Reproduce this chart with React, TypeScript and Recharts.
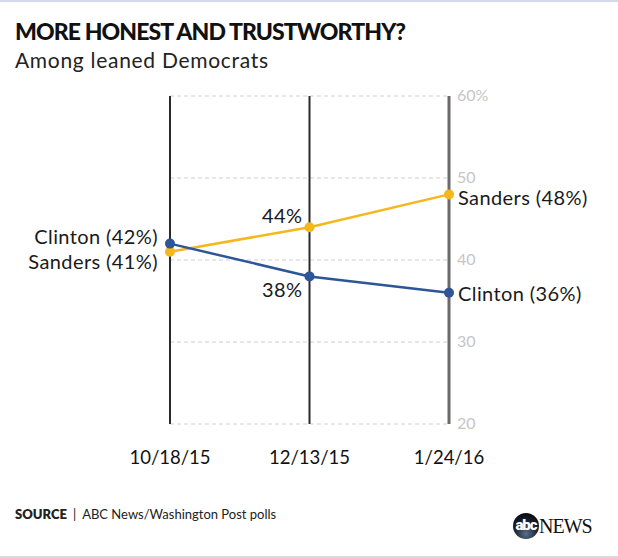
import React from "react"
import {
  LineChart,
  Line,
  XAxis,
  YAxis,
  CartesianGrid,
  ReferenceLine,
  LabelList,
} from "recharts"

const dates = ["10/18/15", "12/13/15", "1/24/16"]
const clinton = [42, 38, 36]
const sanders = [41, 44, 48]
const yTicks = [20, 30, 40, 50, 60]

const BLUE = "#2d5597"
const YELLOW = "#f6b71c"
const FONT = "Lato, 'Open Sans', sans-serif"

const data = dates.map((d, i) => ({ date: d, Clinton: clinton[i], Sanders: sanders[i] }))

// label placement per point: [dx, dy, anchor]
const clintonPos: [number, number, string][] = [
  [-12, -8, "end"],
  [-7, 13, "end"],
  [9, 0, "start"],
]
const sandersPos: [number, number, string][] = [
  [-12, 9, "end"],
  [-7, -12, "end"],
  [9, 3, "start"],
]

const makeLabel = (name: string, pos: [number, number, string][]) => (props: any) => {
  const { x, y, value, index } = props
  const [dx, dy, anchor] = pos[index]
  const text = index === 1 ? `${value}%` : `${name} (${value}%)`
  return (
    <text
      x={x + dx}
      y={y + dy}
      textAnchor={anchor as any}
      dominantBaseline="central"
      fill="#1a1a1a"
      fontSize={20}
      letterSpacing={0.4}
      fontFamily={FONT}
    >
      {text}
    </text>
  )
}

const YTick = (props: any) => {
  const { x, y, payload } = props
  return (
    <text x={x} y={y - 2} dominantBaseline="central" fill="#c6c6c6" fontSize={16} fontFamily={FONT}>
      {payload.value === 60 ? "60%" : payload.value}
    </text>
  )
}

export default function App() {
  return (
    <div
      style={{
        position: "fixed",
        top: 0,
        left: 0,
        width: 618,
        height: 558,
        background: "#fff",
        fontFamily: FONT,
        overflow: "hidden",
      }}
    >
      <div style={{ position: "absolute", top: 0, left: 0, width: 618, height: 2, background: "#d3dbe8" }} />
      <div style={{ position: "absolute", bottom: 0, left: 0, width: 618, height: 2, background: "#d3dbe8" }} />
      <div
        style={{
          position: "absolute",
          left: 15,
          top: 17,
          fontSize: 23,
          fontWeight: 900,
          color: "#111",
          letterSpacing: -0.9,
          whiteSpace: "nowrap",
        }}
      >
        MORE HONEST AND TRUSTWORTHY?
      </div>
      <div
        style={{
          position: "absolute",
          left: 15,
          top: 47,
          fontSize: 21,
          color: "#222",
          letterSpacing: 0.7,
          whiteSpace: "nowrap",
        }}
      >
        Among leaned Democrats
      </div>

      <div style={{ position: "absolute", left: 0, top: 0 }}>
        <LineChart width={618} height={558} data={data} margin={{ top: 96, right: 109, bottom: 94, left: 170 }}>
          <CartesianGrid vertical={false} stroke="#d0d0d0" strokeDasharray="4 3" />
          <XAxis
            dataKey="date"
            axisLine={false}
            tickLine={false}
            tickMargin={21}
            tick={{ fill: "#111", fontSize: 18.5, fontFamily: FONT }}
            height={40}
          />
          <YAxis
            orientation="right"
            domain={[20, 60]}
            ticks={yTicks}
            axisLine={false}
            tickLine={false}
            width={60}
            tick={<YTick />}
            tickMargin={2}
          />
          <ReferenceLine x={dates[0]} stroke="#2a2a2a" strokeWidth={2} />
          <ReferenceLine x={dates[1]} stroke="#2a2a2a" strokeWidth={2} />
          <ReferenceLine x={dates[2]} stroke="#6a6a6a" strokeWidth={3} />
          <Line
            dataKey="Sanders"
            stroke={YELLOW}
            strokeWidth={2.5}
            dot={{ r: 5, fill: YELLOW, stroke: "none" }}
            isAnimationActive={false}
          >
            <LabelList dataKey="Sanders" content={makeLabel("Sanders", sandersPos)} />
          </Line>
          <Line
            dataKey="Clinton"
            stroke={BLUE}
            strokeWidth={2.5}
            dot={{ r: 5, fill: BLUE, stroke: "none" }}
            isAnimationActive={false}
          >
            <LabelList dataKey="Clinton" content={makeLabel("Clinton", clintonPos)} />
          </Line>
        </LineChart>
      </div>

      <div style={{ position: "absolute", left: 15, top: 506, fontSize: 13, color: "#222", whiteSpace: "nowrap" }}>
        <span style={{ fontWeight: 800 }}>SOURCE</span>
        <span style={{ margin: "0 6px" }}>|</span>
        ABC News/Washington Post polls
      </div>

      <div
        style={{
          position: "absolute",
          left: 513,
          top: 513,
          width: 26,
          height: 26,
          borderRadius: "50%",
          background: "radial-gradient(circle at 50% 80%, #5a6f88 0%, #1d2533 45%, #000 100%)",
          color: "#fff",
          fontSize: 15,
          fontWeight: 900,
          lineHeight: "25px",
          textAlign: "center",
          letterSpacing: -1,
          fontFamily: "Roboto, sans-serif",
        }}
      >
        abc
      </div>
      <div
        style={{
          position: "absolute",
          left: 539,
          top: 513,
          fontSize: 20,
          color: "#111",
          fontFamily: "'Liberation Serif', serif",
          letterSpacing: -1,
          lineHeight: "26px",
        }}
      >
        NEWS
      </div>
    </div>
  )
}
